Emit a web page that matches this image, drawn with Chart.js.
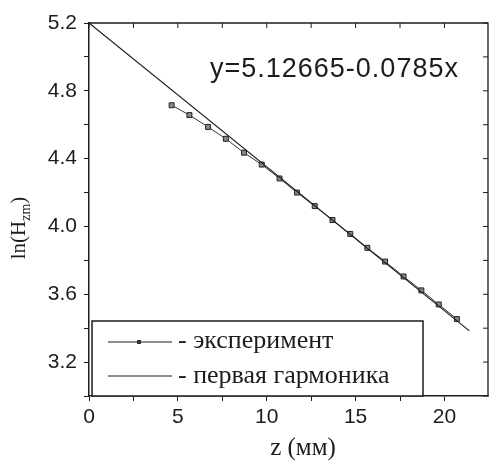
<!DOCTYPE html>
<html>
<head>
<meta charset="utf-8">
<script src="https://cdn.jsdelivr.net/npm/chart.js@4/dist/chart.umd.min.js"></script>
<style>
html,body{margin:0;padding:0;background:#fff;}
#wrap{width:493px;height:464px;}
</style>
</head>
<body>
<div id="wrap"><canvas id="c" width="493" height="464"></canvas></div>
<script>
const zExp = [4.65, 5.65, 6.7, 7.7, 8.72, 9.72, 10.72, 11.7, 12.7, 13.7, 14.7, 15.66, 16.66, 17.7, 18.7, 19.68, 20.7];
const lnH  = [4.715, 4.657, 4.587, 4.517, 4.435, 4.365, 4.283, 4.200, 4.120, 4.038, 3.956, 3.874, 3.793, 3.705, 3.623, 3.540, 3.454];
const fitZ = [0, 21.4];
const fitY = [5.2, 3.384];
const legendLabels = ['- эксперимент', '- первая гармоника'];
const equationText = 'y=5.12665-0.0785x';
const xTitle = 'z (мм)';
const yTitleMain = 'ln(H';
const yTitleSub = 'zm';
const yTitleEnd = ')';

const ink = '#1c1c1c';

const decor = {
  id: 'decor',
  afterDraw(chart) {
    const ctx = chart.ctx;
    const a = chart.chartArea;
    const xs = chart.scales.x, ys = chart.scales.y;
    ctx.save();
    ctx.strokeStyle = ink;
    ctx.fillStyle = ink;
    // top & right frame
    ctx.lineWidth = 1.3;
    ctx.beginPath();
    ctx.moveTo(a.left, a.top); ctx.lineTo(a.right, a.top); ctx.lineTo(a.right, a.bottom);
    ctx.stroke();
    // inward ticks
    ctx.lineWidth = 1;
    ctx.beginPath();
    xs.ticks.forEach(t => {
      const px = xs.getPixelForValue(t.value);
      ctx.moveTo(px, a.top); ctx.lineTo(px, a.top + 5);
    });
    ys.ticks.forEach(t => {
      const py = ys.getPixelForValue(t.value);
      ctx.moveTo(a.right, py); ctx.lineTo(a.right - 5, py);
    });
    ctx.stroke();

    // equation
    ctx.font = '27px "Liberation Sans", Arial, sans-serif';
    try { ctx.letterSpacing = '1px'; } catch(e) {}
    ctx.textAlign = 'left';
    ctx.textBaseline = 'alphabetic';
    ctx.fillText(equationText, 210, 77);
    try { ctx.letterSpacing = '0px'; } catch(e) {}

    // legend box
    ctx.fillStyle = '#fff';
    ctx.fillRect(92, 321, 331, 75);
    ctx.fillStyle = ink;
    ctx.lineWidth = 1.5;
    ctx.strokeRect(92, 321, 331, 75);
    ctx.lineWidth = 1;
    ctx.beginPath();
    ctx.moveTo(108, 342); ctx.lineTo(172, 342);
    ctx.moveTo(108, 376); ctx.lineTo(172, 376);
    ctx.stroke();
    ctx.fillStyle = '#333';
    ctx.fillRect(137, 340, 4, 4);
    ctx.fillStyle = ink;
    ctx.font = '26px "Liberation Serif", "Times New Roman", serif';
    ctx.fillText(legendLabels[0], 178, 348);
    ctx.fillText(legendLabels[1], 178, 383);

    // x title
    ctx.textAlign = 'center';
    ctx.font = '25px "Liberation Serif", "Times New Roman", serif';
    ctx.fillText(xTitle, 303, 455);

    // y title rotated with subscript
    ctx.save();
    ctx.translate(25, 228);
    ctx.rotate(-Math.PI / 2);
    const fMain = '21px "Liberation Serif", "Times New Roman", serif';
    const fSub = '14px "Liberation Serif", "Times New Roman", serif';
    ctx.font = fMain; const w1 = ctx.measureText(yTitleMain).width; const w3 = ctx.measureText(yTitleEnd).width;
    ctx.font = fSub; const w2 = ctx.measureText(yTitleSub).width;
    let x0 = -(w1 + w2 + w3) / 2;
    ctx.textAlign = 'left';
    ctx.font = fMain; ctx.fillText(yTitleMain, x0, 0);
    ctx.font = fSub; ctx.fillText(yTitleSub, x0 + w1, 5);
    ctx.font = fMain; ctx.fillText(yTitleEnd, x0 + w1 + w2, 0);
    ctx.restore();

    ctx.restore();
  }
};

new Chart(document.getElementById('c'), {
  type: 'scatter',
  data: {
    datasets: [
      {
        label: 'первая гармоника',
        data: fitZ.map((z, i) => ({x: z, y: fitY[i]})),
        showLine: true,
        borderColor: ink,
        borderWidth: 1.2,
        pointRadius: 0,
        fill: false
      },
      {
        label: 'эксперимент',
        data: zExp.map((z, i) => ({x: z, y: lnH[i]})),
        showLine: true,
        borderColor: '#333',
        borderWidth: 1,
        pointStyle: 'rect',
        pointRadius: 3.5,
        pointBackgroundColor: '#888',
        pointBorderColor: '#222',
        pointBorderWidth: 1,
        fill: false
      }
    ]
  },
  options: {
    responsive: false,
    animation: false,
    events: [],
    layout: { padding: { top: 23, right: 2, left: 0, bottom: 0 } },
    plugins: { legend: { display: false }, tooltip: { enabled: false } },
    scales: {
      x: {
        type: 'linear',
        min: 0, max: 22.45,
        afterFit: s => { s.height = 68; },
        border: { display: true, color: ink, width: 1.5 },
        grid: { drawOnChartArea: false, drawTicks: true, tickLength: 5, color: ink },
        ticks: {
          stepSize: 2.5, includeBounds: false, autoSkip: false, maxRotation: 0, padding: 4,
          color: ink,
          font: { family: '"Liberation Sans", Arial, sans-serif', size: 21 },
          callback: v => (Math.abs(v % 5) < 1e-6 ? String(v) : '')
        }
      },
      y: {
        type: 'linear',
        min: 3.0, max: 5.2,
        afterFit: s => { s.width = 89; },
        border: { display: true, color: ink, width: 1.5 },
        grid: { drawOnChartArea: false, drawTicks: true, tickLength: 5, color: ink },
        ticks: {
          stepSize: 0.2, includeBounds: false, autoSkip: false, padding: 7,
          color: ink,
          font: { family: '"Liberation Sans", Arial, sans-serif', size: 21 },
          callback: v => (Math.round(v * 10) % 4 === 0 ? v.toFixed(1) : '')
        }
      }
    }
  },
  plugins: [decor]
});
</script>
</body>
</html>
